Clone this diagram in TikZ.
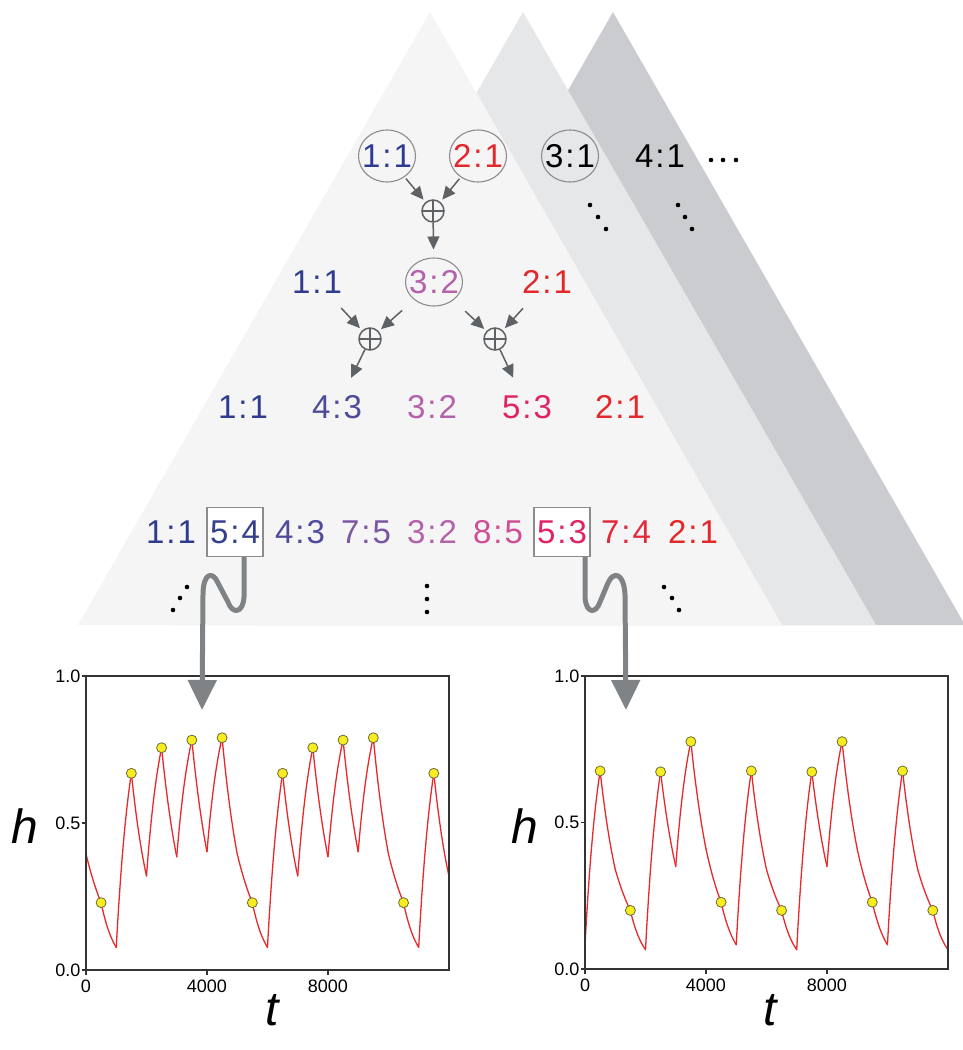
\documentclass[tikz,border=0pt]{standalone}
\usepackage{fontspec}
\setmainfont{Liberation Sans}
\usetikzlibrary{arrows.meta,shapes.geometric}
\definecolor{triA}{HTML}{F5F5F5}
\definecolor{triB}{HTML}{E6E7E9}
\definecolor{triC}{HTML}{CBCCD0}
\definecolor{arrgray}{HTML}{5E6265}
\definecolor{wavegray}{HTML}{7F8386}
\definecolor{ringgray}{HTML}{8C8C8C}
\definecolor{rA}{HTML}{2E3B8E}
\definecolor{rB}{HTML}{33408F}
\definecolor{rC}{HTML}{4E4B9B}
\definecolor{rD}{HTML}{7A57A1}
\definecolor{rE}{HTML}{B462A9}
\definecolor{rF}{HTML}{CF4E94}
\definecolor{rG}{HTML}{E1245F}
\definecolor{rH}{HTML}{E22A3D}
\definecolor{rI}{HTML}{E2282B}
\definecolor{curvered}{HTML}{E8292B}
\definecolor{dotyellow}{HTML}{F6EC1F}
\definecolor{dotedge}{HTML}{6E6B3A}
\newcommand{\rat}[2]{#1\kern2pt:\kern2pt#2}
\begin{document}
\begin{tikzpicture}[x=1pt,y=-1pt, lbl/.style={font=\fontsize{33}{38}\selectfont,inner sep=2pt}, ring/.style={ellipse,draw=ringgray,line width=1.1pt,minimum width=57pt,minimum height=52pt,inner xsep=-8pt,inner ysep=0pt}, boxed/.style={draw=ringgray,fill=white,line width=1.1pt,minimum width=56pt,minimum height=49pt}, sum/.style={circle,draw=arrgray,line width=1.5pt,minimum size=22pt,inner sep=0pt,path picture={\draw[arrgray,line width=1.5pt] (path picture bounding box.north)--(path picture bounding box.south) (path picture bounding box.west)--(path picture bounding box.east);}}, arr/.style={-{Triangle[length=13pt,width=12pt]},arrgray,line width=1.5pt}, wave/.style={-{Triangle[length=30pt,width=28pt]},wavegray,line width=5pt,line join=round}, frame/.style={draw=black!80,line width=1.2pt}, tick/.style={font=\fontsize{18}{20}\selectfont,inner sep=1pt}, axis/.style={font=\fontsize{48}{54}\selectfont\itshape,inner sep=0pt}, curve/.style={curvered,line width=1.3pt,line join=round,line cap=round}, marker/.style={fill=dotyellow,draw=dotedge,line width=0.8pt}]
\useasboundingbox (0,0) rectangle (963,1050);
% stacked triangles
\fill[triC] (613,12) -- (965,625) -- (261,625) -- cycle;
\fill[triB] (523,12) -- (876,625) -- (171,625) -- cycle;
\fill[triA] (430,12) -- (782,625) -- (78,625) -- cycle;
% first level
\node[lbl,ring,text=rA] (c11) at (387,156) {\rat11};
\node[lbl,ring,text=rI] (c21) at (478,156) {\rat21};
\node[lbl,ring] (c31) at (570,156) {\rat31};
\node[lbl] (c41) at (660,156) {\rat41};
\node[sum] (s1) at (433,211) {};
% second level
\node[lbl,text=rA] (m11) at (317,282) {\rat11};
\node[lbl,ring,minimum height=48pt,text=rE] (m32) at (434,282) {\rat32};
\node[lbl,text=rI] (m21) at (547,282) {\rat21};
\node[sum] (s2) at (370,339) {};
\node[sum] (s3) at (495,339) {};
% third level
\node[lbl,text=rA] (n11) at (243,407) {\rat11};
\node[lbl,text=rC] (n43) at (337,407) {\rat43};
\node[lbl,text=rE] (n32) at (432,407) {\rat32};
\node[lbl,text=rG] (n53) at (527,407) {\rat53};
\node[lbl,text=rI] (n21) at (620,407) {\rat21};
% fourth level
\node[lbl,text=rA] (q11) at (171,532) {\rat11};
\node[lbl,boxed,text=rB] (q54) at (235,532) {\rat54};
\node[lbl,text=rC] (q43) at (300,532) {\rat43};
\node[lbl,text=rD] (q75) at (366,532) {\rat75};
\node[lbl,text=rE] (q32) at (432,532) {\rat32};
\node[lbl,text=rF] (q85) at (498,532) {\rat85};
\node[lbl,boxed,text=rG] (q53) at (562,532) {\rat53};
\node[lbl,text=rH] (q74) at (626,532) {\rat74};
\node[lbl,text=rI] (q21) at (693,532) {\rat21};
% dots
\foreach \p in {(711,160),(723,160),(736,160),(590,205),(598,217),(606,229),(678,205),(685,217),(692,229),(187,587),(180,598),(173,610),(427,586),(427,599),(427,612),(664,587),(672,598),(679,610)} \fill \p circle (2.3pt);
\draw[arr,shorten <=2pt,shorten >=3pt] (c11) -- (s1); \draw[arr,shorten <=2pt,shorten >=3pt] (c21) -- (s1); \draw[arr,shorten >=8pt] (s1) -- (m32);
\draw[arr,shorten <=17pt,shorten >=3pt] (m11) -- (s2); \draw[arr,shorten <=16pt,shorten >=3pt] (m32) -- (s2); \draw[arr,shorten <=16pt,shorten >=3pt] (m32) -- (s3); \draw[arr,shorten <=17pt,shorten >=3pt] (m21) -- (s3);
\draw[arr,shorten >=17pt] (s2) -- (n43); \draw[arr,shorten >=17pt] (s3) -- (n53);
% left trace
\begin{scope}[shift={(86,970)},x=0.03025pt,y=294pt]
\begin{scope}
\clip (0,0) rectangle (12000,1);
\foreach \off in {0,5000,10000}{
\foreach \ta/\ha/\hb/\hk in {0/0.395/0.229/0,500/0.229/0.077/0,1000/0.077/0.669/1,1500/0.669/0.32/0,2000/0.32/0.756/1,2500/0.756/0.385/0,3000/0.385/0.782/1,3500/0.782/0.402/0,4000/0.402/0.79/1,4500/0.79/0.395/0} \draw[curve] plot[domain=0:1,samples=11] ({\off+\ta+500*\x},{\hk+(\ha-\hk)*((\hb-\hk)/(\ha-\hk))^\x});
\foreach \ta/\ha in {500/0.229,1500/0.669,2500/0.756,3500/0.782,4500/0.79} \draw[marker] (\off+\ta,\ha) circle (5pt);
}
\end{scope}
\draw[frame] (0,0) rectangle (12000,1);
\foreach \yv in {0.0,0.5,1.0} \draw[frame] (0,\yv) -- ++(-4pt,0pt) node[tick,anchor=east] {\yv};
\foreach \xv in {0,4000,8000} \draw[frame] (\xv,0) -- ++(0pt,-5pt) node[tick,anchor=north,yshift=-3pt] {\xv};
\end{scope}
% right trace
\begin{scope}[shift={(585,969)},x=0.03025pt,y=293pt]
\begin{scope}
\clip (0,0) rectangle (12000,1);
\foreach \off in {0,5000,10000}{
\foreach \ta/\ha/\hb/\hk in {0/0.083/0.676/1,500/0.676/0.34/0,1000/0.34/0.2/0,1500/0.2/0.066/0,2000/0.066/0.673/1,2500/0.673/0.35/0,3000/0.35/0.776/1,3500/0.776/0.41/0,4000/0.41/0.228/0,4500/0.228/0.083/0} \draw[curve] plot[domain=0:1,samples=11] ({\off+\ta+500*\x},{\hk+(\ha-\hk)*((\hb-\hk)/(\ha-\hk))^\x});
\foreach \ta/\ha in {500/0.676,1500/0.2,2500/0.673,3500/0.776,4500/0.228} \draw[marker] (\off+\ta,\ha) circle (5pt);
}
\end{scope}
\draw[frame] (0,0) rectangle (12000,1);
\foreach \yv in {0.0,0.5,1.0} \draw[frame] (0,\yv) -- ++(-4pt,0pt) node[tick,anchor=east] {\yv};
\foreach \xv in {0,4000,8000} \draw[frame] (\xv,0) -- ++(0pt,-5pt) node[tick,anchor=north,yshift=-3pt] {\xv};
\end{scope}
\node[axis] (hl) at (25,826) {h}; \node[axis] (tl) at (272,1010) {t};
\node[axis] (hr) at (525,826) {h}; \node[axis] (tr) at (770,1010) {t};
% zoom-in arrows
\coordinate (inl) at (202,710); \coordinate (inr) at (626,710);
\draw[wave] ([xshift=9pt]q54.south) -- (244,597) .. controls (243,614) and (232,614) .. (228,602) -- (218,583) .. controls (213,571) and (203,572) .. (203,595) -- (inl);
\draw[wave] ([xshift=23pt]q53.south) -- (585,597) .. controls (586,614) and (596,614) .. (600,602) -- (608,583) .. controls (613,571) and (624,572) .. (625,595) -- (inr);
\end{tikzpicture}
\end{document}
